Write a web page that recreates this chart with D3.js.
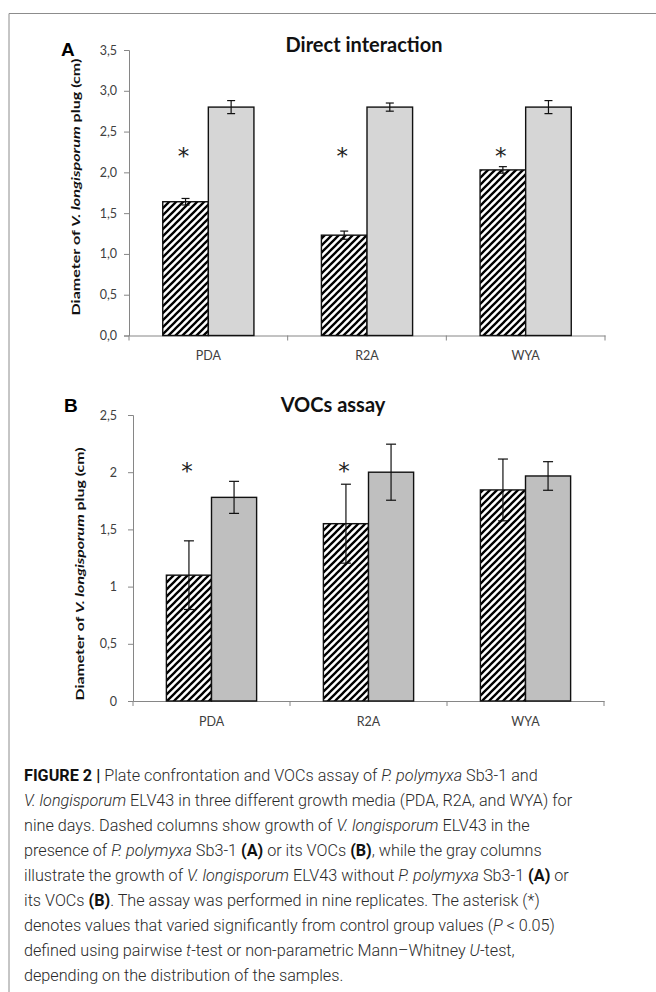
<!DOCTYPE html>
<meta charset="utf-8">
<html>
  <head>
    <title>Figure 2</title>
    <script src="https://d3js.org/d3.v7.min.js"></script>
    <style>
      body{margin:0;background:#fff;}
      svg{display:block;}
    </style>
  </head>
  <body>
    <div id="figure"></div>
  </body>
  <script>
    var width=656, height=992;

    // data
    var media=["PDA","R2A","WYA"];
    var series=["with","without"];
    // A: direct interaction
    var directWith=[1.64,1.23,2.03];
    var directWithErr=[0.04,0.05,0.04];
    var directWithout=[2.80,2.80,2.80];
    var directWithoutErr=[0.08,0.05,0.08];
    var directSig=[true,true,true];
    var directTicks=["0,0","0,5","1,0","1,5","2,0","2,5","3,0","3,5"];
    // B: VOCs assay
    var vocWith=[1.10,1.55,1.845];
    var vocWithErr=[0.30,0.345,0.27];
    var vocWithout=[1.78,2.00,1.967];
    var vocWithoutErr=[0.14,0.245,0.125];
    var vocSig=[true,true,false];
    var vocTicks=["0","0,5","1","1,5","2","2,5"];

    var svg=d3.select("#figure").append("svg")
      .attr("width",width).attr("height",height);

    // hatch pattern for the dashed columns
    var defs=svg.append("defs");
    var pat=defs.append("pattern").attr("id","hatch")
      .attr("patternUnits","userSpaceOnUse")
      .attr("width",7).attr("height",7);
    pat.append("rect").attr("width",7).attr("height",7).attr("fill","#fff");
    pat.append("path").attr("d","M-1,8 L8,-1 M-1,1 L1,-1 M6,8 L8,6")
      .attr("stroke","#000").attr("stroke-width",2.3);

    // outer frame
    svg.append("path").attr("d","M9,992 V13.5 H656")
      .attr("fill","none").attr("stroke","#8c8c8c").attr("stroke-width",1);

    var tickColor="#404040", axisColor="#868686";

    function panel(o){
      var x=d3.scaleBand().domain(media).range([o.x0,o.x1]);
      var xs=d3.scaleBand().domain(series).range([0,x.bandwidth()]).paddingOuter(0.74);
      var y=d3.scaleLinear().domain([0,o.ymax]).range([o.yb,o.yt]);
      var g=svg.append("g");

      // y axis
      var yAxis=d3.axisLeft(y).tickValues(o.ticks.map(function(d,i){return i*0.5}))
        .tickFormat(function(d,i){return o.ticks[i]}).tickSizeOuter(0).tickSize(5).tickPadding(o.tickPad);
      var ya=g.append("g").attr("transform","translate("+o.x0+",0)").call(yAxis);
      ya.select(".domain").attr("stroke",axisColor);
      ya.selectAll(".tick line").attr("stroke",axisColor);
      ya.selectAll("text").attr("fill",tickColor).style("font-family","Lato, 'Open Sans', sans-serif").style("font-size","12.5px");

      // x axis
      var xa=g.append("g").attr("transform","translate(0,"+o.yb+")")
        .call(d3.axisBottom(x).tickSize(0).tickPadding(16));
      xa.select(".domain").attr("stroke",axisColor);
      xa.selectAll("text").attr("fill",tickColor).style("font-family","Lato, 'Open Sans', sans-serif").style("font-size","12.5px");
      var bounds=[o.x0].concat(media.map(function(m){return x(m)+x.bandwidth()}));
      g.selectAll("line.xt").data(bounds).enter().append("line")
        .attr("x1",function(d){return d}).attr("x2",function(d){return d})
        .attr("y1",o.yb).attr("y2",o.yb+5).attr("stroke",axisColor);

      var rows=[];
      media.forEach(function(m,i){
        rows.push({m:m,s:"with",v:o.withV[i],e:o.withE[i]});
        rows.push({m:m,s:"without",v:o.withoutV[i],e:o.withoutE[i]});
      });

      g.selectAll("rect.bar").data(rows).enter().append("rect")
        .attr("x",function(d){return x(d.m)+xs(d.s)})
        .attr("y",function(d){return y(d.v)})
        .attr("width",xs.bandwidth())
        .attr("height",function(d){return y(0)-y(d.v)})
        .attr("fill",function(d){return d.s=="with"?"url(#hatch)":o.gray})
        .attr("stroke","#111").attr("stroke-width",1.4);

      // error bars
      var eb=g.selectAll("g.err").data(rows).enter().append("g")
        .attr("transform",function(d){return "translate("+(x(d.m)+xs(d.s)+xs.bandwidth()/2)+",0)"});
      eb.append("line").attr("y1",function(d){return y(d.v+d.e)}).attr("y2",function(d){return y(d.v-d.e)})
        .attr("stroke","#111").attr("stroke-width",1.2);
      eb.append("line").attr("x1",-o.cap).attr("x2",o.cap)
        .attr("y1",function(d){return y(d.v+d.e)}).attr("y2",function(d){return y(d.v+d.e)})
        .attr("stroke","#111").attr("stroke-width",1.2);
      eb.append("line").attr("x1",-o.cap).attr("x2",o.cap)
        .attr("y1",function(d){return y(d.v-d.e)}).attr("y2",function(d){return y(d.v-d.e)})
        .attr("stroke","#111").attr("stroke-width",1.2);

      // asterisks
      g.selectAll("text.sig").data(media.filter(function(m,i){return o.sig[i]})).enter().append("text")
        .attr("x",function(m){return x(m)+xs("with")+xs.bandwidth()/2-2})
        .attr("y",y(o.starV)+10)
        .attr("text-anchor","middle")
        .style("font-family","'DejaVu Sans', sans-serif").style("font-size","23px")
        .attr("fill","#222").text("*");

      // title
      g.append("text").attr("x",o.titleX).attr("y",o.titleY)
        .attr("text-anchor","middle")
        .style("font-family","Lato, 'Open Sans', sans-serif").style("font-weight","bold").style("font-size","20px")
        .attr("fill","#111").text(o.title);
      // panel letter
      g.append("text").attr("x",o.letterX).attr("y",o.letterY)
        .style("font-family","'Liberation Sans', Arial, sans-serif").style("font-weight","bold").style("font-size","19px")
        .attr("fill","#000").text(o.letter);

      // y label
      var yl=g.append("text")
        .attr("transform","translate("+o.labX+","+o.labY+") rotate(-90)")
        .attr("text-anchor","middle")
        .attr("textLength",o.labLen).attr("lengthAdjust","spacingAndGlyphs")
        .style("font-family","Lato, 'Open Sans', sans-serif").style("font-weight","bold").style("font-size","12px")
        .attr("fill","#111");
      yl.append("tspan").text("Diameter of ");
      yl.append("tspan").style("font-style","italic").text("V. longisporum");
      yl.append("tspan").text(" plug (cm)");
    }

    panel({x0:129,x1:605,yb:335.5,yt:50,ymax:3.5,ticks:directTicks,tickPad:7,
      withV:directWith,withE:directWithErr,withoutV:directWithout,withoutE:directWithoutErr,
      sig:directSig,starV:2.23,gray:"#d6d6d6",cap:4,
      title:"Direct interaction",titleX:364,titleY:52,letter:"A",letterX:61,letterY:56,
      labX:80,labY:187,labLen:257});

    panel({x0:133,x1:604,yb:701,yt:415,ymax:2.5,ticks:vocTicks,tickPad:11,
      withV:vocWith,withE:vocWithErr,withoutV:vocWithout,withoutE:vocWithoutErr,
      sig:vocSig,starV:2.03,gray:"#bfbfbf",cap:5,
      title:"VOCs assay",titleX:333,titleY:412,letter:"B",letterX:64,letterY:412,
      labX:84,labY:574,labLen:253});

    // caption
    var caption=[
      [["FIGURE 2 | ","b"],["Plate confrontation and VOCs assay of ",""],["P. polymyxa","i"],[" Sb3-1 and",""]],
      [["V. longisporum","i"],[" ELV43 in three different growth media (PDA, R2A, and WYA) for",""]],
      [["nine days. Dashed columns show growth of ",""],["V. longisporum","i"],[" ELV43 in the",""]],
      [["presence of ",""],["P. polymyxa","i"],[" Sb3-1 ",""],["(A)","b"],[" or its VOCs ",""],["(B)","b"],[", while the gray columns",""]],
      [["illustrate the growth of ",""],["V. longisporum","i"],[" ELV43 without ",""],["P. polymyxa","i"],[" Sb3-1 ",""],["(A)","b"],[" or",""]],
      [["its VOCs ",""],["(B)","b"],[". The assay was performed in nine replicates. The asterisk (*)",""]],
      [["denotes values that varied significantly from control group values (",""],["P","i"],[" < 0.05)",""]],
      [["defined using pairwise ",""],["t","i"],["-test or non-parametric Mann\u2013Whitney ",""],["U","i"],["-test,",""]],
      [["depending on the distribution of the samples.",""]]
    ];
    var cap=svg.append("g")
      .style("font-family","Roboto, 'Noto Sans', sans-serif").style("font-size","16.2px")
      .attr("fill","#2a2a2a");
    caption.forEach(function(line,i){
      var t=cap.append("text").attr("x",24).attr("y",781+i*25);
      line.forEach(function(seg){
        var s=t.append("tspan").text(seg[0]);
        if(seg[1]=="b") s.style("font-weight","bold").attr("fill","#111");
        if(seg[1]=="i") s.style("font-style","italic");
      });
      t.style("font-weight","300");
    });
  </script>
</html>
